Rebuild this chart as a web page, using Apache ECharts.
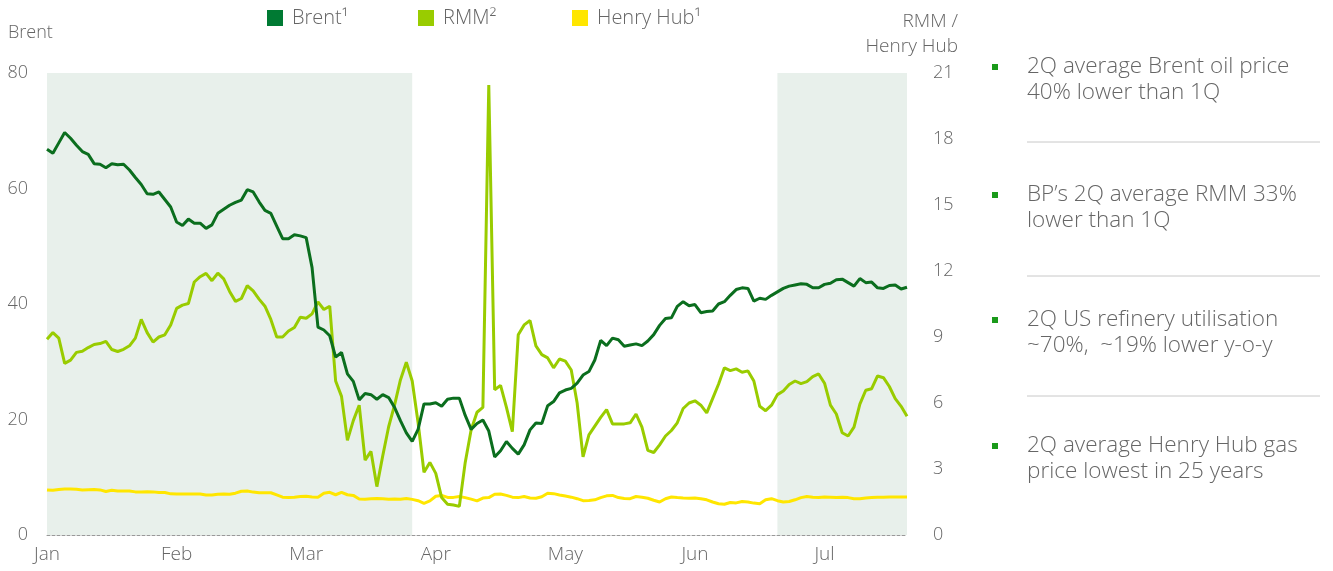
<!DOCTYPE html>
<html>
<head>
<meta charset="utf-8">
<script src="https://cdn.jsdelivr.net/npm/echarts@6/dist/echarts.min.js"></script>
<style>
  html, body { margin: 0; padding: 0; background: #fff; }
  #chart { width: 1333px; height: 571px; }
</style>
</head>
<body>
<div id="chart"></div>
<script>
// month buckets on the x axis (about a trading month each)
const months = ['Jan', 'Feb', 'Mar', 'Apr', 'May', 'Jun', 'Jul'];
const daysPerMonth = [22, 22, 22, 22, 22, 22, 15];

// Brent, $/bbl (left axis)
const brent = [
  66.8, 66.1, 67.9, 69.7, 68.7, 67.5, 66.4, 65.9, 64.3, 64.2, 63.6, 64.3, 64.1, 64.2, 63.2, 61.9, 60.7, 59.1, 59.0, 59.4, 58.1, 56.8,
  54.2, 53.6, 54.7, 54.0, 54.0, 53.1, 53.7, 55.7, 56.4, 57.1, 57.6, 58.0, 59.8, 59.4, 57.7, 56.2, 55.7, 53.5, 51.3, 51.3, 52.0, 51.8,
  51.5, 46.3, 36.0, 35.5, 34.5, 30.8, 31.6, 27.9, 26.6, 23.4, 24.5, 24.3, 23.5, 24.3, 23.8, 22.1, 19.8, 17.7, 16.2, 18.3, 22.7, 22.7,
  22.9, 22.3, 23.5, 23.7, 23.7, 20.7, 18.3, 19.3, 19.9, 18.0, 13.5, 14.6, 16.2, 15.0, 14.0, 15.6, 18.2, 19.4, 19.3, 22.4, 23.1, 24.6,
  25.1, 25.4, 26.3, 27.7, 28.3, 30.3, 33.7, 32.8, 34.1, 33.8, 32.7, 32.9, 33.1, 32.8, 33.6, 34.7, 36.3, 37.5, 37.6, 39.6, 40.4, 39.7,
  39.9, 38.5, 38.7, 38.8, 40.0, 40.4, 41.5, 42.5, 42.8, 42.7, 40.5, 41.0, 40.8, 41.5, 42.1, 42.7, 43.1, 43.3, 43.5, 43.4, 42.8, 42.8,
  43.4, 43.6, 44.2, 44.3, 43.7, 43.1, 44.4, 43.7, 43.8, 42.8, 42.7, 43.2, 43.3, 42.6, 42.9
];

// RMM, $/bbl (right axis)
const rmm = [
  8.9, 9.2, 8.95, 7.8, 7.95, 8.3, 8.35, 8.52, 8.66, 8.7, 8.8, 8.43, 8.34, 8.44, 8.6, 8.95, 9.8, 9.2, 8.77, 9.0, 9.1, 9.55,
  10.3, 10.45, 10.52, 11.5, 11.74, 11.89, 11.56, 11.9, 11.64, 11.07, 10.62, 10.75, 11.33, 11.1, 10.72, 10.4, 9.8, 9.0, 9.0, 9.27, 9.43, 9.9,
  9.85, 10.05, 10.6, 10.25, 10.4, 7.0, 6.3, 4.3, 5.2, 5.9, 3.4, 3.8, 2.2, 3.6, 4.92, 5.9, 7.05, 7.85, 7.0, 5.1, 2.85, 3.3,
  2.8, 1.7, 1.4, 1.36, 1.3, 3.3, 4.77, 5.58, 5.8, 20.45, 6.6, 6.8, 5.8, 4.7, 9.1, 9.55, 9.75, 8.6, 8.2, 8.05, 7.6, 8.0,
  7.9, 7.5, 6.0, 3.55, 4.55, 4.95, 5.35, 5.7, 5.05, 5.05, 5.05, 5.1, 5.5, 4.9, 3.85, 3.75, 4.1, 4.5, 4.75, 5.1, 5.75, 6.0,
  6.1, 5.9, 5.55, 6.2, 6.85, 7.6, 7.47, 7.55, 7.4, 7.46, 7.0, 5.85, 5.65, 5.9, 6.38, 6.55, 6.84, 7.0, 6.88, 6.97, 7.2, 7.32,
  6.9, 5.9, 5.5, 4.65, 4.5, 4.9, 5.95, 6.58, 6.65, 7.23, 7.15, 6.75, 6.2, 5.85, 5.4
];

// Henry Hub, $/mmBtu (right axis)
const henryHub = [
  2.05, 2.03, 2.07, 2.09, 2.09, 2.08, 2.05, 2.06, 2.07, 2.05, 1.98, 2.03, 2.0, 2.0, 2.0, 1.96, 1.96, 1.97, 1.96, 1.93, 1.93, 1.87,
  1.86, 1.86, 1.86, 1.86, 1.86, 1.82, 1.82, 1.85, 1.86, 1.85, 1.9, 1.99, 2.0, 1.95, 1.92, 1.92, 1.92, 1.82, 1.72, 1.7, 1.72, 1.75,
  1.76, 1.73, 1.72, 1.9, 1.94, 1.83, 1.94, 1.83, 1.8, 1.64, 1.63, 1.65, 1.66, 1.65, 1.62, 1.64, 1.63, 1.66, 1.62, 1.56, 1.44, 1.55,
  1.76, 1.8, 1.71, 1.71, 1.75, 1.7, 1.63, 1.55, 1.68, 1.7, 1.85, 1.86, 1.8, 1.72, 1.7, 1.75, 1.68, 1.67, 1.74, 1.9, 1.88, 1.82,
  1.77, 1.72, 1.65, 1.56, 1.57, 1.6, 1.7, 1.78, 1.8, 1.7, 1.66, 1.65, 1.75, 1.72, 1.67, 1.58, 1.5, 1.65, 1.73, 1.7, 1.68, 1.67,
  1.68, 1.65, 1.6, 1.5, 1.42, 1.4, 1.48, 1.46, 1.52, 1.5, 1.45, 1.42, 1.6, 1.65, 1.56, 1.5, 1.52, 1.6, 1.7, 1.75, 1.72, 1.7,
  1.73, 1.72, 1.7, 1.72, 1.7, 1.65, 1.65, 1.68, 1.7, 1.72, 1.72, 1.73, 1.73, 1.73, 1.73
];

// shaded periods, as index ranges on the x axis
const shaded = [[0, 62], [124, 146]];

const bullets = [
  ['2Q average Brent oil price', '40% lower than 1Q'],
  ['BP’s 2Q average RMM 33%', 'lower than 1Q'],
  ['2Q US refinery utilisation', '~70%,  ~19% lower y-o-y'],
  ['2Q average Henry Hub gas', 'price lowest in 25 years']
];

const days = [];
months.forEach((m, mi) => {
  for (let d = 1; d <= daysPerMonth[mi]; d++) days.push(m + ' ' + d);
});

const FONT = '"Open Sans", Roboto, sans-serif';
const GREY = '#666666';

const chart = echarts.init(document.getElementById('chart'));

// right hand side text panel
const panel = [];
const blockTop = [67, 195, 320, 446];
bullets.forEach((lines, k) => {
  const y = blockTop[k];
  panel.push({
    type: 'rect', shape: { x: 992, y: y - 3, width: 6, height: 6 },
    style: { fill: '#1a9a1a' }, silent: true
  });
  lines.forEach((t, j) => {
    panel.push({
      type: 'text', x: 1027, y: y + j * 26,
      style: { text: t, fill: GREY, font: '300 22.5px ' + FONT, verticalAlign: 'middle' },
      silent: true
    });
  });
});
[142, 276, 396].forEach(y => {
  panel.push({
    type: 'line', shape: { x1: 1027, y1: y, x2: 1320, y2: y },
    style: { stroke: '#c8c8c8', lineWidth: 1 }, silent: true
  });
});

function legendItem(name, color, left) {
  return {
    left: left, top: 8, padding: 0, itemWidth: 16, itemHeight: 16, icon: 'rect',
    selectedMode: false,
    data: [{ name: name, itemStyle: { color: color } }],
    textStyle: { color: GREY, fontSize: 20, fontFamily: FONT, fontWeight: 300, padding: [0, 0, 0, 4] }
  };
}

const option = {
  animation: false,
  legend: [
    legendItem('Brent¹', '#007a33', 267),
    legendItem('RMM²', '#99cc00', 418),
    legendItem('Henry Hub¹', '#ffe600', 572)
  ],
  grid: { left: 47, right: 426, top: 73, bottom: 36 },
  xAxis: {
    type: 'category',
    data: days,
    boundaryGap: false,
    axisLine: { lineStyle: { color: '#999', type: [3, 2], width: 1 } },
    axisTick: { show: false },
    axisLabel: {
      interval: (idx, val) => / 1$/.test(val),
      formatter: val => val.split(' ')[0],
      color: GREY, fontSize: 19, fontFamily: FONT, fontWeight: 300, margin: 10
    },
    splitLine: { show: false }
  },
  yAxis: [
    {
      type: 'value', min: 0, max: 80, interval: 20,
      axisLine: { show: false }, axisTick: { show: false }, splitLine: { show: false },
      axisLabel: { color: GREY, fontSize: 18, fontFamily: FONT, fontWeight: 300, margin: 19 }
    },
    {
      type: 'value', min: 0, max: 21, interval: 3,
      axisLine: { show: false }, axisTick: { show: false }, splitLine: { show: false },
      axisLabel: { color: GREY, fontSize: 18, fontFamily: FONT, fontWeight: 300, margin: 26, align: 'left' }
    }
  ],
  graphic: [
    {
      type: 'text', x: 8, y: 33,
      style: { text: 'Brent', fill: GREY, font: '300 18px ' + FONT, verticalAlign: 'middle' }
    },
    {
      type: 'text', x: 958, y: 34,
      style: {
        text: 'RMM /\nHenry Hub', fill: GREY, font: '300 19px ' + FONT,
        align: 'right', verticalAlign: 'middle', lineHeight: 25
      }
    }
  ].concat(panel),
  series: [
    {
      name: 'Henry Hub¹', type: 'line', yAxisIndex: 1, data: henryHub,
      showSymbol: false, lineStyle: { color: '#ffe600', width: 3 }, itemStyle: { color: '#ffe600' },
      markArea: {
        silent: true,
        itemStyle: { color: '#e8f0eb' },
        data: shaded.map(r => [{ xAxis: days[r[0]] }, { xAxis: days[r[1]] }])
      }
    },
    {
      name: 'RMM²', type: 'line', yAxisIndex: 1, data: rmm,
      showSymbol: false, lineStyle: { color: '#99cc00', width: 3 }, itemStyle: { color: '#99cc00' }
    },
    {
      name: 'Brent¹', type: 'line', yAxisIndex: 0, data: brent,
      showSymbol: false, lineStyle: { color: '#0b6e1e', width: 3 }, itemStyle: { color: '#007a33' }
    }
  ]
};

chart.setOption(option);
</script>
</body>
</html>
